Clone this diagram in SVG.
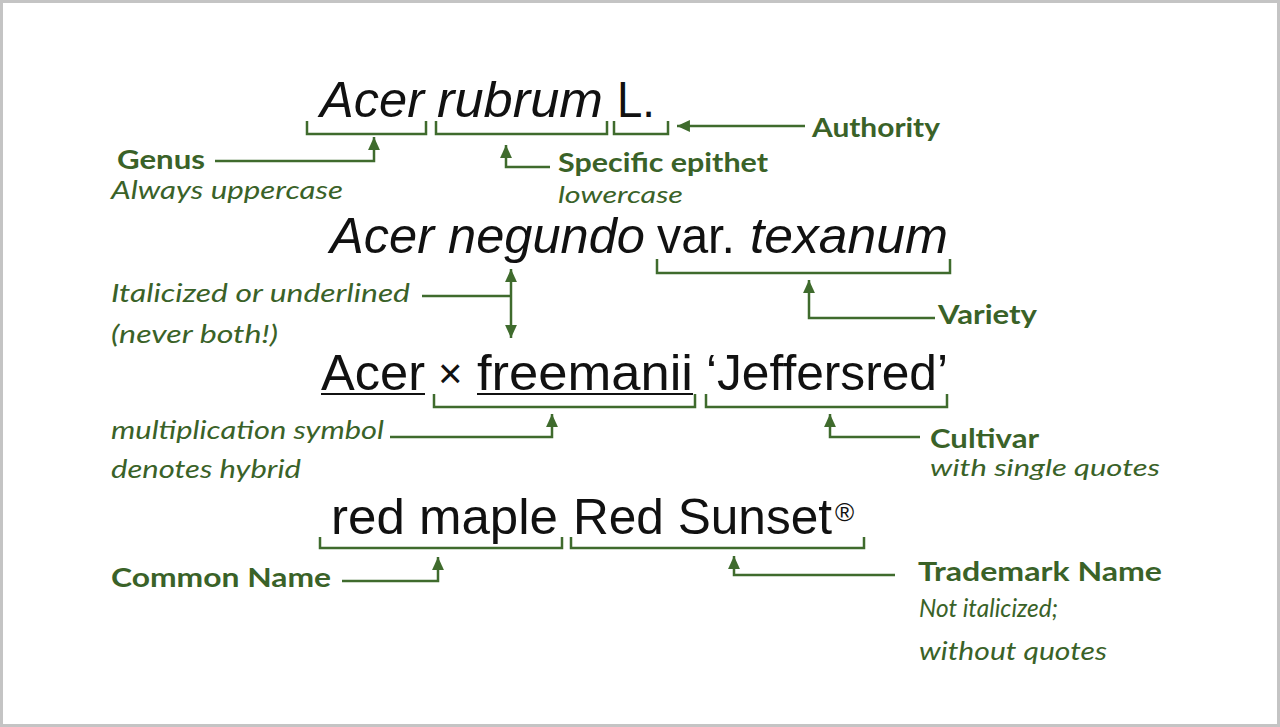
<svg xmlns="http://www.w3.org/2000/svg" width="1280" height="727" viewBox="0 0 1280 727">
<defs>
<style>
.nm{font-family:"Liberation Sans",Arial,sans-serif;font-size:50px;fill:#111}
.it{font-style:italic}
.lb{font-family:Lato,"Liberation Sans",sans-serif;font-weight:700;font-size:27px;fill:#3a6228}
.sb{font-family:Lato,"Liberation Sans",sans-serif;font-style:italic;font-size:25px;fill:#3a6228}
.br{fill:none;stroke:#3f6b2d;stroke-width:2.5}
.ln{fill:none;stroke:#3f6b2d;stroke-width:2.5}
.ar{fill:none;stroke:#3f6b2d;stroke-width:2.5;marker-end:url(#ah)}
.ul{stroke:#111;stroke-width:2}
</style>
<marker id="ah" markerUnits="userSpaceOnUse" markerWidth="14" markerHeight="14" refX="12" refY="5.5" orient="auto-start-reverse" viewBox="0 0 13 11">
<path d="M0,0 L12,5.5 L0,11 Z" fill="#3f6b2d"/>
</marker>
</defs>
<rect x="0" y="0" width="1280" height="727" fill="#fff"/>
<rect x="1.5" y="1.5" width="1277" height="724" fill="none" stroke="#c4c4c4" stroke-width="3"/>

<g id="name-acer-rubrum">
<text class="nm it" x="320" y="117" textLength="104" lengthAdjust="spacingAndGlyphs">Acer</text>
<text class="nm it" x="437" y="117" textLength="166" lengthAdjust="spacingAndGlyphs">rubrum</text>
<text class="nm" x="617" y="117" textLength="38" lengthAdjust="spacingAndGlyphs">L.</text>
</g>
<g id="name-acer-negundo">
<text class="nm it" x="330" y="253" textLength="315" lengthAdjust="spacingAndGlyphs">Acer negundo</text>
<text class="nm" x="657" y="253" textLength="78" lengthAdjust="spacingAndGlyphs">var.</text>
<text class="nm it" x="750" y="253" textLength="198" lengthAdjust="spacingAndGlyphs">texanum</text>
</g>
<g id="name-acer-freemanii">
<text class="nm" x="321" y="390" textLength="104" lengthAdjust="spacingAndGlyphs">Acer</text>
<text class="nm" x="438" y="388" style="font-size:42px">×</text>
<text class="nm" x="477" y="390" textLength="216" lengthAdjust="spacingAndGlyphs">freemanii</text>
<text class="nm" x="706" y="390" textLength="242" lengthAdjust="spacingAndGlyphs">‘Jeffersred’</text>
<line class="ul" x1="321" y1="394" x2="425" y2="394"/>
<line class="ul" x1="477" y1="394" x2="693" y2="394"/>
</g>
<g id="name-red-maple">
<text class="nm" x="331" y="534" textLength="227" lengthAdjust="spacingAndGlyphs">red maple</text>
<text class="nm" x="573" y="534" textLength="259" lengthAdjust="spacingAndGlyphs">Red Sunset</text>
<text class="nm" x="835" y="521" style="font-size:26px">®</text>
</g>

<g id="label-genus">
<text class="lb" x="117" y="169" textLength="88" lengthAdjust="spacingAndGlyphs">Genus</text>
<text class="sb" x="111" y="199" textLength="232" lengthAdjust="spacingAndGlyphs">Always uppercase</text>
</g>
<g id="label-authority">
<text class="lb" x="812" y="137" textLength="128" lengthAdjust="spacingAndGlyphs">Authority</text>
</g>
<g id="label-epithet">
<text class="lb" x="558" y="172" textLength="210" lengthAdjust="spacingAndGlyphs">Specific epithet</text>
<text class="sb" x="558" y="203" style="font-size:24px" textLength="125" lengthAdjust="spacingAndGlyphs">lowercase</text>
</g>
<g id="label-italicized">
<text class="sb" x="111" y="302" textLength="299" lengthAdjust="spacingAndGlyphs">Italicized or underlined</text>
<text class="sb" x="111" y="343" textLength="167" lengthAdjust="spacingAndGlyphs">(never both!)</text>
</g>
<g id="label-variety">
<text class="lb" x="938" y="324" textLength="99" lengthAdjust="spacingAndGlyphs">Variety</text>
</g>
<g id="label-hybrid">
<text class="sb" x="111" y="439" textLength="273" lengthAdjust="spacingAndGlyphs">multiplication symbol</text>
<text class="sb" x="111" y="478" textLength="190" lengthAdjust="spacingAndGlyphs">denotes hybrid</text>
</g>
<g id="label-cultivar">
<text class="lb" x="930" y="448" style="font-size:26px" textLength="109" lengthAdjust="spacingAndGlyphs">Cultivar</text>
<text class="sb" x="930" y="476" style="font-size:24px" textLength="230" lengthAdjust="spacingAndGlyphs">with single quotes</text>
</g>
<g id="label-common">
<text class="lb" x="111" y="587" textLength="220" lengthAdjust="spacingAndGlyphs">Common Name</text>
</g>
<g id="label-trademark">
<text class="lb" x="918" y="581" textLength="244" lengthAdjust="spacingAndGlyphs">Trademark Name</text>
<text class="sb" x="919" y="617" textLength="139" lengthAdjust="spacingAndGlyphs">Not italicized;</text>
<text class="sb" x="919" y="660" textLength="188" lengthAdjust="spacingAndGlyphs">without quotes</text>
</g>

<g id="connectors">
<path class="br" d="M307,121 V134 H426 V121"/>
<path class="br" d="M436,121 V134 H607 V121"/>
<path class="br" d="M614,121 V134 H668 V121"/>
<path class="br" d="M657,259 V273 H950 V259"/>
<path class="br" d="M434,394 V407 H695 V394"/>
<path class="br" d="M706,394 V407 H947 V394"/>
<path class="br" d="M320,537 V548 H562 V537"/>
<path class="br" d="M571,537 V548 H864 V537"/>

<path class="ar" d="M215,161 H374 V137"/>
<path class="ar" d="M805,126 H677"/>
<path class="ar" d="M550,167 H506 V145"/>
<path class="ar" d="M935,318 H809 V280"/>
<path class="ln" d="M422,296 H511"/>
<path class="ar" style="marker-start:url(#ah)" d="M511,269 V338"/>
<path class="ar" d="M390,437 H552 V414"/>
<path class="ar" d="M920,437 H830 V414"/>
<path class="ar" d="M342,581 H438 V557"/>
<path class="ar" d="M895,575 H734 V556"/>
</g>
</svg>
